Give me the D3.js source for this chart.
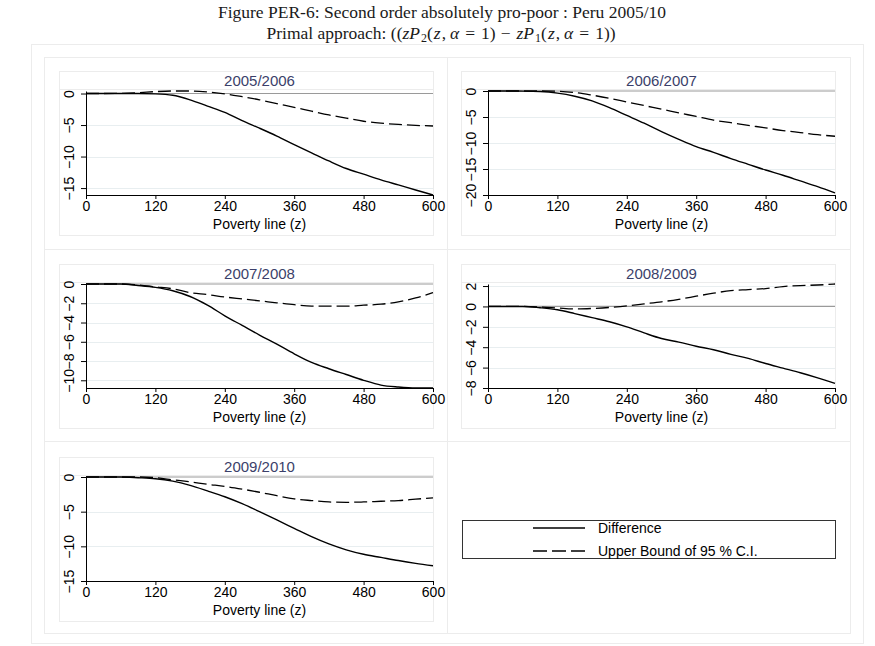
<!DOCTYPE html>
<html>
<head>
<meta charset="utf-8">
<script src="https://cdn.jsdelivr.net/npm/d3@7"></script>
<style>
  body { margin: 0; background: #fff; }
  svg { display: block; }
</style>
</head>
<body>
<script>
// poverty line grid (x values read every 30 units)
var povertyLine = [0, 30, 60, 90, 120, 150, 180, 210, 240, 270, 300, 330, 360, 390, 420, 450, 480, 510, 540, 570, 600];
var xTicks = [0, 120, 240, 360, 480, 600];

var panelTitles = ['2005/2006', '2006/2007', '2007/2008', '2008/2009', '2009/2010'];

var diff0506 = [0, 0, 0, 0, -0.05, -0.27, -1.0, -2.0, -3.0, -4.3, -5.5, -6.75, -8.1, -9.4, -10.7, -11.9, -12.8, -13.7, -14.5, -15.3, -16.1];
var upper0506 = [0, 0, 0.02, 0.12, 0.3, 0.4, 0.4, 0.25, -0.05, -0.5, -1.0, -1.6, -2.2, -2.8, -3.4, -3.9, -4.4, -4.7, -4.9, -5.05, -5.15];

var diff0607 = [0, 0, -0.02, -0.1, -0.4, -1.0, -1.9, -3.2, -4.7, -6.2, -7.8, -9.3, -10.7, -11.8, -13.0, -14.1, -15.2, -16.2, -17.3, -18.4, -19.6];
var upper0607 = [0, 0, 0, 0, -0.05, -0.3, -0.8, -1.4, -2.1, -2.8, -3.5, -4.2, -4.9, -5.6, -6.1, -6.6, -7.1, -7.6, -8.0, -8.4, -8.7];

var diff0708 = [0, 0, 0, -0.15, -0.35, -0.7, -1.3, -2.2, -3.3, -4.3, -5.3, -6.25, -7.25, -8.15, -8.8, -9.4, -10.0, -10.5, -10.7, -10.8, -10.8];
var upper0708 = [0, 0, 0, -0.1, -0.3, -0.5, -0.9, -1.1, -1.35, -1.55, -1.75, -1.95, -2.15, -2.3, -2.3, -2.3, -2.2, -2.1, -1.85, -1.45, -0.9];

var diff0809 = [0, 0, 0, -0.13, -0.33, -0.7, -1.1, -1.5, -2.0, -2.6, -3.15, -3.5, -3.9, -4.25, -4.7, -5.1, -5.6, -6.05, -6.5, -7.0, -7.55];
var upper0809 = [0, 0, 0, -0.05, -0.15, -0.25, -0.2, -0.1, 0.05, 0.25, 0.45, 0.7, 1.0, 1.3, 1.55, 1.65, 1.75, 1.95, 2.05, 2.1, 2.2];

var diff0910 = [0, 0, 0, -0.1, -0.25, -0.6, -1.2, -2.0, -2.85, -3.85, -5.0, -6.2, -7.4, -8.6, -9.65, -10.5, -11.15, -11.6, -12.05, -12.45, -12.8];
var upper0910 = [0, 0, 0, 0, -0.1, -0.4, -0.7, -1.05, -1.35, -1.75, -2.2, -2.7, -3.15, -3.4, -3.6, -3.65, -3.6, -3.5, -3.4, -3.2, -3.0];

var yTicks0506 = [0, -5, -10, -15];
var yTicks0607 = [0, -5, -10, -15, -20];
var yTicks0708 = [0, -2, -4, -6, -8, -10];
var yTicks0809 = [2, 0, -2, -4, -6, -8];
var yTicks0910 = [0, -5, -10, -15];

var legendLabels = ['Difference', 'Upper Bound of 95 % C.I.'];

var panels = [
  {title: panelTitles[0], diff: diff0506, upper: upper0506, ticks: yTicks0506, col: 0, row: 0},
  {title: panelTitles[1], diff: diff0607, upper: upper0607, ticks: yTicks0607, col: 1, row: 0},
  {title: panelTitles[2], diff: diff0708, upper: upper0708, ticks: yTicks0708, col: 0, row: 1},
  {title: panelTitles[3], diff: diff0809, upper: upper0809, ticks: yTicks0809, col: 1, row: 1},
  {title: panelTitles[4], diff: diff0910, upper: upper0910, ticks: yTicks0910, col: 0, row: 2}
];

var W = 875, H = 646;
var sans = 'Liberation Sans, Arial, sans-serif';
var faint = '#ececec';
var dash = '13,5';

var svg = d3.select('body').append('svg').attr('width', W).attr('height', H);

// header
var title = svg.append('g').attr('font-family', 'Liberation Serif, Times New Roman, serif')
  .attr('font-size', 17.5).attr('fill', '#1a1a1a').attr('text-anchor', 'middle');
title.append('text').attr('x', 442).attr('y', 18)
  .text('Figure PER-6: Second order absolutely pro-poor : Peru 2005/10');

// second line: text + math, with math-like spacing
var t2 = title.append('text').attr('x', 441).attr('y', 39);
var parts = [
  ['Primal approach: ((', null, 0],
  ['zP', 'i', 0], ['2', 's', 1], ['(', null, 0], ['z', 'i', 1], [',', null, 1], ['α', 'i', 4],
  ['=', null, 6], ['1)', null, 6], ['−', null, 5], ['zP', 'i', 6], ['1', 's', 1], ['(', null, 0],
  ['z', 'i', 1], [',', null, 1], ['α', 'i', 4], ['=', null, 6], ['1))', null, 6]
];
var prevSub = false;
parts.forEach(function(pt) {
  var ts = t2.append('tspan').text(pt[0]);
  var dy = 0;
  if (pt[1] === 's') { ts.attr('font-size', 12); dy = 3; }
  if (prevSub && pt[1] !== 's') dy = -3;
  if (pt[1] === 'i') ts.attr('font-style', 'italic');
  if (dy) ts.attr('dy', dy);
  if (pt[2]) ts.attr('dx', pt[2]);
  prevSub = pt[1] === 's';
});

// outer frame + cells
svg.append('rect').attr('x', 31.5).attr('y', 44.5).attr('width', 832).attr('height', 599)
  .attr('fill', 'none').attr('stroke', faint);

var cellX = [44, 447], cellY = [57, 249, 441];
cellY.forEach(function(cy) {
  cellX.forEach(function(cx) {
    svg.append('rect').attr('x', cx + 0.5).attr('y', cy + 0.5).attr('width', 403).attr('height', 192)
      .attr('fill', 'none').attr('stroke', faint);
  });
});

var innerX = [59, 461], innerY = [71, 264, 457];
var innerW = 374;

panels.forEach(function(p) {
  var left = innerX[p.col], top = innerY[p.row];
  var g = svg.append('g');

  // inner box and title band
  g.append('rect').attr('x', left + 0.5).attr('y', top + 0.5).attr('width', innerW).attr('height', 164)
    .attr('fill', 'none').attr('stroke', faint);
  g.append('rect').attr('x', left + 0.5).attr('y', top + 0.5).attr('width', innerW).attr('height', 18)
    .attr('fill', 'none').attr('stroke', faint);

  var x0 = left + 27, x1 = left + innerW;
  var yTop = top + 20, yBot = top + 124;

  var x = d3.scaleLinear().domain([0, 600]).range([x0, x1]);
  var ext = d3.extent(p.diff.concat(p.upper, p.ticks));
  var y = d3.scaleLinear().domain(ext).range([yBot, yTop]);

  g.append('text').attr('x', (x0 + x1) / 2).attr('y', top + 15)
    .attr('text-anchor', 'middle').attr('font-family', sans).attr('font-size', 15)
    .attr('fill', '#3b3f6a').text(p.title);

  // gridlines
  g.selectAll('.grid').data(p.ticks.filter(function(t) { return t !== 0 && y(t) < yBot - 1; }))
    .enter().append('line')
    .attr('x1', x0).attr('x2', x1)
    .attr('y1', function(d) { return Math.round(y(d)) + 0.5; })
    .attr('y2', function(d) { return Math.round(y(d)) + 0.5; })
    .attr('stroke', '#e8eef0').attr('stroke-width', 1);

  // zero line
  g.append('line').attr('x1', x0).attr('x2', x1)
    .attr('y1', y(0)).attr('y2', y(0))
    .attr('stroke', '#9a9a9a').attr('stroke-width', 1.2);

  // axes
  var xAxis = d3.axisBottom(x).tickValues(xTicks).tickSize(4).tickPadding(2).tickSizeOuter(0);
  var gx = g.append('g').attr('transform', 'translate(0,' + yBot + ')').call(xAxis);
  gx.select('.domain').attr('stroke', '#000');
  gx.selectAll('line').attr('stroke', '#000');
  gx.selectAll('text').attr('font-family', sans).attr('font-size', 14).attr('fill', '#000');

  var yAxis = d3.axisLeft(y).tickValues(p.ticks).tickSize(5).tickSizeOuter(0);
  var gy = g.append('g').attr('transform', 'translate(' + x0 + ',0)').call(yAxis);
  gy.select('.domain').attr('stroke', '#000');
  gy.selectAll('line').attr('stroke', '#000');
  gy.selectAll('text')
    .attr('font-family', sans).attr('font-size', 14).attr('fill', '#000')
    .attr('x', null).attr('dy', null)
    .attr('text-anchor', 'middle')
    .attr('transform', 'translate(-12,0) rotate(-90)');

  g.append('text').attr('x', (x0 + x1) / 2).attr('y', yBot + 34)
    .attr('text-anchor', 'middle').attr('font-family', sans).attr('font-size', 14)
    .text('Poverty line (z)');

  var line = function(vals) {
    return d3.line()
      .x(function(d, i) { return x(povertyLine[i]); })
      .y(function(d) { return y(d); })
      .curve(d3.curveMonotoneX)(vals);
  };

  g.append('path').attr('d', line(p.diff)).attr('fill', 'none')
    .attr('stroke', '#000').attr('stroke-width', 1.4);
  g.append('path').attr('d', line(p.upper)).attr('fill', 'none')
    .attr('stroke', '#000').attr('stroke-width', 1.3).attr('stroke-dasharray', dash);
});

// legend
var lg = svg.append('g');
lg.append('rect').attr('x', 462.5).attr('y', 520.5).attr('width', 373).attr('height', 38)
  .attr('fill', '#fff').attr('stroke', '#333').attr('stroke-width', 1);
legendLabels.forEach(function(lbl, i) {
  var ly = 528 + i * 23;
  lg.append('line').attr('x1', 533).attr('x2', 585).attr('y1', ly).attr('y2', ly)
    .attr('stroke', '#000').attr('stroke-width', 1.4)
    .attr('stroke-dasharray', i === 1 ? '14,5' : null);
  lg.append('text').attr('x', 598).attr('y', ly + 5)
    .attr('font-family', sans).attr('font-size', 14).text(lbl);
});
</script>
</body>
</html>
